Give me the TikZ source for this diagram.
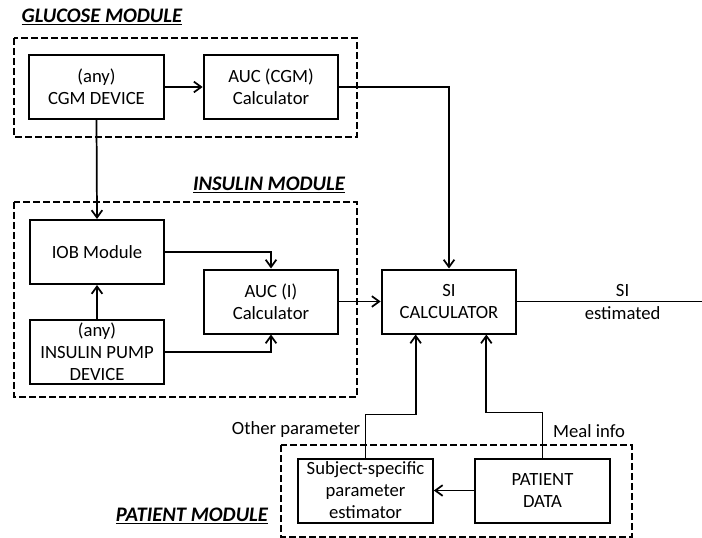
\documentclass[tikz,border=0pt]{standalone}
\usepackage{fontspec}
\setmainfont{Carlito}
\usetikzlibrary{arrows.meta}

\begin{document}
\begin{tikzpicture}[x=0.75pt,y=-0.75pt]
    \tikzstyle{every node}+=[font=\fontsize{14}{16.5}\selectfont]
    \tikzstyle{block}=[draw=black,line width=1.5pt,minimum width=101pt,minimum height=48pt,inner sep=1pt,align=center]
    \tikzstyle{module}=[draw=black,line width=1.2pt,dash pattern=on 5pt off 2.5pt]
    \tikzstyle{arr}=[draw=black,line width=1.3pt,-{Straight Barb[length=5.5pt,width=8pt]}]
    \tikzstyle{title}=[font=\fontsize{15.5}{18}\selectfont\bfseries\itshape]
    \useasboundingbox (0,0) rectangle (702,538);
    \draw [module] (14,38) rectangle (357,137);
    \draw [module] (14,202) rectangle (357,397);
    \draw [module] (281,445) rectangle (632,537);
    \node [title] (glutitle) at (102,17) {\underline{GLUCOSE MODULE}};
    \node [title] (institle) at (269,185) {\underline{INSULIN MODULE}};
    \node [title] (pattitle) at (192,516) {\underline{PATIENT MODULE}};
    \node [block] (cgm) at (96.5,87) {(any)\\CGM DEVICE};
    \node [block] (auccgm) at (271,87) {AUC (CGM)\\Calculator};
    \node [block] (iob) at (97,252) {IOB Module};
    \node [block] (pump) at (97,352) {(any)\\INSULIN PUMP\\DEVICE};
    \node [block] (auci) at (271,301.5) {AUC (I)\\Calculator};
    \node [block] (si) at (449,301.5) {SI\\CALCULATOR};
    \node [block] (subj) at (365.5,490.5) {Subject-specific\\parameter\\estimator};
    \node [block] (pdata) at (542.5,490.5) {PATIENT\\DATA};
    \coordinate (out) at (702,301.5);
    \draw [arr] (cgm.east) -- (auccgm.west);
    \draw [arr] (cgm.south) -- (iob.north);
    \draw [arr] (pump.north) -- (iob.south);
    \draw [arr] (iob.east) -| (auci.north);
    \draw [arr] (pump.east) -| (auci.south);
    \draw [arr] (auci.east) -- (si.west);
    \draw [arr] (auccgm.east) -| (si.north);
    \draw [arr] (subj.north) -- ++(0,-43) -| ([xshift=-25pt]si.south);
    \draw [arr] (pdata.north) -- ++(0,-45) -| ([xshift=28pt]si.south);
    \draw [arr] (pdata.west) -- (subj.east);
    \draw [line width=1.3pt] (si.east) -- (out)
        node [pos=0.57,above] (silbl) {SI}
        node [pos=0.57,below] (estlbl) {estimated};
    \node (otherlbl) at (296,430) {Other parameter};
    \node (meallbl) at (589,431) {Meal info};
\end{tikzpicture}
\end{document}
